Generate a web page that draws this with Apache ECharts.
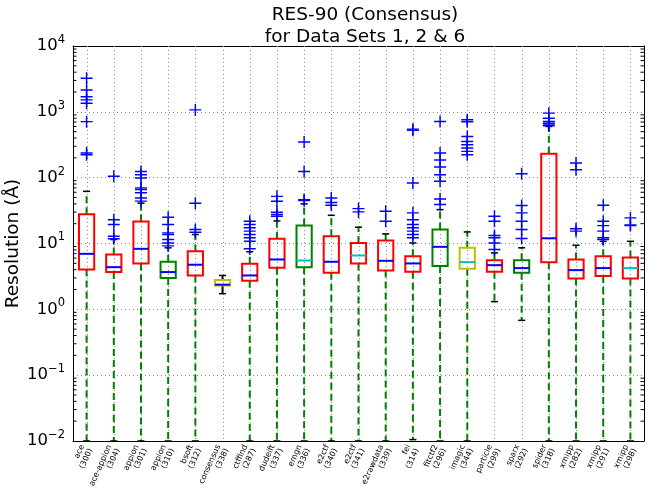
<!DOCTYPE html>
<html>
<head>
<meta charset="utf-8">
<script src="https://cdn.jsdelivr.net/npm/echarts@6/dist/echarts.min.js"></script>
<style>
html, body { margin: 0; padding: 0; background: #fff; }
#main { width: 647px; height: 489px; }
</style>
</head>
<body>
<div id="main"></div>
<script>
var categories = ['ace\n(300)', 'ace-appion\n(304)', 'appion\n(301)', 'appion\n(310)', 'bsoft\n(312)',
    'consensus\n(338)', 'ctffind\n(287)', 'dudeift\n(337)', 'emgn\n(336)', 'e2ctf\n(340)', 'e2ctf\n(341)',
    'e2rawdata\n(339)', 'fei\n(314)', 'fitctf2\n(296)', 'imagic\n(344)', 'particle\n(299)', 'sparx\n(292)',
    'spider\n(318)', 'xmipp\n(282)', 'xmipp\n(291)', 'xmipp\n(298)'];
var whiskerLow = [0.01, 0.01, 0.01, 0.01, 0.01, 1.73, 0.01, 0.01, 0.01, 0.01, 0.01,
    0.01, 0.0105, 0.01, 0.01, 1.31, 0.68, 0.01, 0.01, 0.01, 0.01];
var q1 = [4.04, 3.68, 4.98, 2.98, 3.27, 2.31, 2.72, 4.28, 4.37, 3.6, 4.98,
    3.9, 3.72, 4.54, 4.13, 3.72, 3.6, 5.21, 2.95, 3.2, 2.95];
var median = [6.97, 4.37, 8.3, 3.68, 4.76, 2.37, 3.27, 5.72, 5.52, 5.28, 6.58,
    5.46, 4.98, 8.9, 5.21, 4.69, 4.23, 12, 3.94, 4.23, 4.23];
var q3 = [27.8, 6.8, 21.5, 5.28, 7.65, 2.78, 4.92, 11.8, 18.7, 12.9, 10.2,
    11.1, 6.43, 16.3, 8.6, 5.58, 5.58, 231, 5.72, 6.43, 6.13];
var whiskerHigh = [62, 11.5, 41, 8.6, 13.7, 3.27, 7.5, 22, 40, 26.8, 17.7,
    14, 10.2, 32.7, 15, 7.2, 8.6, 600, 9.4, 10.8, 10.8];
var outliers = [
    [3240, 2150, 1700, 1520, 1350, 710, 237, 223],
    [105, 23, 19.4, 12.9, 11.8],
    [124, 111, 99, 70, 66, 59, 49, 44],
    [25, 19.4, 14.5, 13.7, 11.5, 10.2, 9.2],
    [1070, 41, 16.3, 14.8],
    [],
    [21.8, 19.4, 17.3, 15.4, 13.7, 12.2, 10.8, 8.3],
    [52, 43.8, 29.8, 27.5, 25.9],
    [347, 124, 46.4, 45],
    [49, 42, 38],
    [33.9, 30.2],
    [30.9, 21.8],
    [546, 525, 83, 29.2, 23, 19.4, 17.3, 15.4, 13.7, 12.2],
    [713, 237, 186, 145, 111, 88, 47.5, 39],
    [757, 705, 423, 355, 316, 282, 251, 223],
    [25.9, 21.8, 13.2, 12.2, 10.2, 8.1],
    [115, 37.7, 29.2, 21.8, 16.3, 11.9],
    [955, 800, 713, 673, 631, 614],
    [167, 132, 16.7, 15.4],
    [38, 21.8, 18.7, 15.4, 12.2, 11.5],
    [24.5, 19.2, 18.7]
];
var boxColors = ['r', 'r', 'r', 'g', 'r', 'y', 'r', 'r', 'g', 'r', 'r',
    'r', 'r', 'g', 'y', 'r', 'g', 'r', 'r', 'r', 'r'];
var medianColors = ['b', 'b', 'b', 'b', 'b', 'b', 'b', 'b', 'c', 'b', 'c',
    'b', 'b', 'b', 'c', 'b', 'b', 'b', 'b', 'b', 'c'];
var whiskerColors = ['g', 'g', 'g', 'g', 'g', 'k', 'g', 'g', 'g', 'g', 'g',
    'g', 'g', 'g', 'g', 'g', 'g', 'g', 'g', 'g', 'g'];

var palette = { r: '#ff0000', g: '#008000', y: '#bfbf00', b: '#0000ff', c: '#00bfbf', k: '#000000' };

var boxData = categories.map(function (c, i) {
    return [i, whiskerLow[i], q1[i], median[i], q3[i], whiskerHigh[i]];
});
var outlierData = [];
outliers.forEach(function (list, i) {
    list.forEach(function (v) { outlierData.push([i, v]); });
});
// minor ticks of the log axis: 2..9 in every decade
var minorTicks = [];
for (var e = -2; e < 4; e++) {
    for (var m = 2; m <= 9; m++) minorTicks.push([0, m * Math.pow(10, e)]);
}

var myChart = echarts.init(document.getElementById('main'), null, { renderer: 'canvas' });

var font = 'DejaVu Sans';
var option = {
    animation: false,
    backgroundColor: '#fff',
    textStyle: { fontFamily: font },
    title: {
        text: 'RES-90 (Consensus)\nfor Data Sets 1, 2 & 6',
        left: 360,
        top: -1,
        textAlign: 'center',
        textStyle: { fontFamily: font, fontSize: 18.5, fontWeight: 'normal', color: '#000', lineHeight: 22 }
    },
    grid: { left: 73, right: 3, top: 46, bottom: 48, containLabel: false, outerBoundsMode: 'none' },
    xAxis: [{
        type: 'category',
        data: categories,
        position: 'bottom',
        axisLine: { lineStyle: { color: '#000', width: 1 } },
        axisTick: { inside: true, alignWithLabel: true, length: 4, lineStyle: { color: '#000' } },
        axisLabel: { rotate: 66, fontSize: 8, lineHeight: 9, color: '#000', interval: 0, margin: 6, fontFamily: font },
        splitLine: { show: false }
    }, {
        type: 'category',
        data: categories,
        position: 'top',
        axisLine: { lineStyle: { color: '#000', width: 1 } },
        axisTick: { inside: true, alignWithLabel: true, length: 4, lineStyle: { color: '#000' } },
        axisLabel: { show: false },
        splitLine: { show: false }
    }],
    yAxis: [{
        type: 'log',
        logBase: 10,
        min: 0.01,
        max: 10000,
        splitNumber: 6,
        name: 'Resolution (Å)',
        nameLocation: 'middle',
        nameGap: 50,
        nameMoveOverlap: false,
        nameRotate: 90,
        nameTextStyle: { fontSize: 18.5, color: '#000', fontFamily: font },
        axisLine: { show: true, lineStyle: { color: '#000', width: 1 } },
        axisTick: { inside: true, length: 7, lineStyle: { color: '#000' } },
        axisLabel: {
            margin: 8,
            color: '#000',
            fontSize: 16.5,
            fontFamily: font,
            formatter: function (v) {
                var p = Math.round(Math.log10(v));
                return '10{s|' + (p < 0 ? '\u2212' + (-p) : p) + '}';
            },
            rich: { s: { fontSize: 11.5, fontFamily: font, color: '#000', padding: [0, 0, 12, 0] } }
        },
        splitLine: { show: true, lineStyle: { color: '#888', type: [1, 3], width: 1 } }
    }, {
        type: 'log',
        logBase: 10,
        min: 0.01,
        max: 10000,
        splitNumber: 6,
        position: 'right',
        axisLine: { show: true, lineStyle: { color: '#000', width: 1 } },
        axisTick: { inside: true, length: 7, lineStyle: { color: '#000' } },
        axisLabel: { show: false },
        splitLine: { show: false }
    }],
    series: [{
        type: 'custom',
        name: 'minor',
        xAxisIndex: 0,
        yAxisIndex: 0,
        silent: true,
        data: minorTicks,
        renderItem: function (params, api) {
            var cs = params.coordSys;
            var y = api.coord([0, api.value(1)])[1];
            return {
                type: 'group',
                children: [{
                    type: 'line',
                    shape: { x1: cs.x, y1: y, x2: cs.x + 3.5, y2: y },
                    style: { stroke: '#000', lineWidth: 1 }
                }, {
                    type: 'line',
                    shape: { x1: cs.x + cs.width - 3.5, y1: y, x2: cs.x + cs.width, y2: y },
                    style: { stroke: '#000', lineWidth: 1 }
                }]
            };
        }
    }, {
        type: 'custom',
        name: 'boxes',
        xAxisIndex: 0,
        yAxisIndex: 0,
        clip: true,
        data: boxData,
        renderItem: function (params, api) {
            var cs = params.coordSys;
            var i = api.value(0);
            var band = api.size([1, 0])[0];
            var half = band * 0.28;
            var capHalf = band * 0.13;
            var lo = api.coord([i, api.value(1)]);
            var b1 = api.coord([i, api.value(2)]);
            var md = api.coord([i, api.value(3)]);
            var b3 = api.coord([i, api.value(4)]);
            var hi = api.coord([i, api.value(5)]);
            var x = lo[0];
            var wc = palette[whiskerColors[i]];
            var dash = whiskerColors[i] === 'k' ? null : [7, 4];
            return {
                type: 'group',
                children: [{
                    // vertical grid line through the category
                    type: 'line',
                    shape: { x1: Math.round(x) + 0.5, y1: cs.y, x2: Math.round(x) + 0.5, y2: cs.y + cs.height },
                    style: { stroke: '#888', lineWidth: 1, lineDash: [1, 3] }
                }, {
                    type: 'line',
                    shape: { x1: x, y1: b3[1], x2: x, y2: hi[1] },
                    style: { stroke: wc, lineWidth: 2, lineDash: dash }
                }, {
                    type: 'line',
                    shape: { x1: x, y1: b1[1], x2: x, y2: lo[1] },
                    style: { stroke: wc, lineWidth: 2, lineDash: dash }
                }, {
                    type: 'line',
                    shape: { x1: x - capHalf, y1: hi[1], x2: x + capHalf, y2: hi[1] },
                    style: { stroke: '#000', lineWidth: 1.5 }
                }, {
                    type: 'line',
                    shape: { x1: x - capHalf, y1: lo[1], x2: x + capHalf, y2: lo[1] },
                    style: { stroke: '#000', lineWidth: 1.5 }
                }, {
                    type: 'rect',
                    shape: { x: x - half, y: b3[1], width: half * 2, height: b1[1] - b3[1] },
                    style: { fill: 'rgba(0,0,0,0)', stroke: palette[boxColors[i]], lineWidth: 2 }
                }, {
                    type: 'line',
                    shape: { x1: x - half, y1: md[1], x2: x + half, y2: md[1] },
                    style: { stroke: palette[medianColors[i]], lineWidth: 2 }
                }]
            };
        }
    }, {
        type: 'scatter',
        name: 'outliers',
        xAxisIndex: 0,
        yAxisIndex: 0,
        data: outlierData,
        symbol: 'path://M-1,-0.12L1,-0.12L1,0.12L-1,0.12Z M-0.12,-1L0.12,-1L0.12,1L-0.12,1Z',
        symbolSize: 12,
        itemStyle: { color: '#0000ff', opacity: 1 },
        z: 5
    }]
};
myChart.setOption(option);
</script>
</body>
</html>
